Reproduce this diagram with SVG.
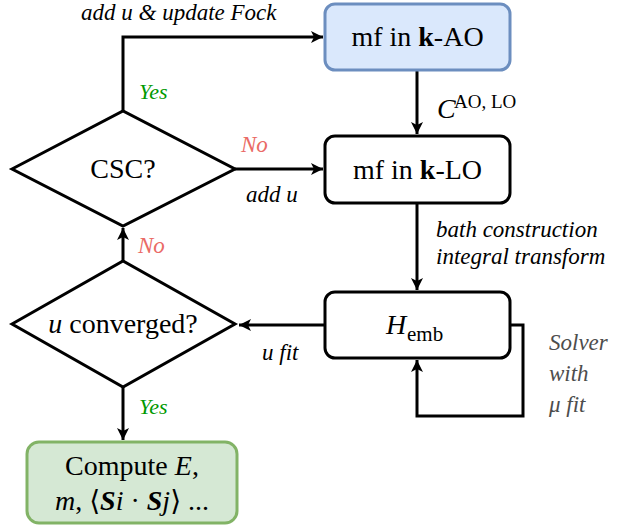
<svg xmlns="http://www.w3.org/2000/svg" width="621" height="529" viewBox="0 0 621 529">
<style>
  .node { stroke: #000; stroke-width: 3; fill: #fff; }
  .blue { fill: #dae8fc; stroke: #6c8ebf; stroke-width: 3; }
  .green { fill: #d5e8d4; stroke: #82b366; stroke-width: 3; }
  .edge { fill: none; stroke: #000; stroke-width: 3; }
  text { fill: #000; }
  .main { font-size: 28px; text-anchor: middle; }
  .lbl { font-size: 23px; font-style: italic; }
  .yes { font-size: 22px; font-style: italic; fill: #009900; }
  .no { font-size: 23px; font-style: italic; fill: #ea6b66; }
  .gray { font-size: 23px; font-style: italic; fill: #4d4d4d; }
</style>
<defs>
  <marker id="arr" markerUnits="userSpaceOnUse" markerWidth="14" markerHeight="14" refX="12" refY="6" orient="auto">
    <path d="M0,0 L12,6 L0,12 L3,6 z" fill="#000"/>
  </marker>
</defs>

<g font-family="'Liberation Serif', 'DejaVu Serif', 'Noto Serif', serif">
<g id="connectors">
  <path class="edge" d="M123,111 V37 H323" marker-end="url(#arr)"/>
  <path class="edge" d="M417,70 V134" marker-end="url(#arr)"/>
  <path class="edge" d="M235,169 H323" marker-end="url(#arr)"/>
  <path class="edge" d="M417,203 V290" marker-end="url(#arr)"/>
  <path class="edge" d="M325,325 H239" marker-end="url(#arr)"/>
  <path class="edge" d="M510,325 H523 V416 H417 V360" marker-end="url(#arr)"/>
  <path class="edge" d="M123,261 V228" marker-end="url(#arr)"/>
  <path class="edge" d="M123,387 V440" marker-end="url(#arr)"/>
  <text class="lbl" x="81" y="20">add u &amp; update Fock</text>
  <text x="437" y="118" font-size="28" font-style="italic">C</text>
  <text x="454" y="108" font-size="19">AO, LO</text>
  <text class="lbl" x="436" y="237">bath construction</text>
  <text class="lbl" x="436" y="264">integral transform</text>
  <text class="lbl" x="246" y="202">add u</text>
  <text class="lbl" x="262" y="360">u fit</text>
  <text class="gray" x="549" y="350">Solver</text>
  <text class="gray" x="549" y="381">with</text>
  <text class="gray" x="549" y="412">μ fit</text>
  <text class="yes" x="139" y="99">Yes</text>
  <text class="no" x="241" y="152">No</text>
  <text class="no" x="138" y="253">No</text>
  <text class="yes" x="139" y="414">Yes</text>
</g>

<g id="mf-kAO">
  <rect class="blue" x="325" y="4" width="185" height="66" rx="10"/>
  <text class="main" x="417.5" y="46">mf in <tspan font-weight="bold">k</tspan>-AO</text>
</g>

<g id="mf-kLO">
  <rect class="node" x="325" y="136" width="185" height="67" rx="10"/>
  <text class="main" x="417.5" y="179">mf in <tspan font-weight="bold">k</tspan>-LO</text>
</g>

<g id="Hemb">
  <rect class="node" x="325" y="292" width="185" height="66" rx="10"/>
  <text x="386" y="334" font-size="28" font-style="italic">H</text>
  <text x="407" y="341" font-size="21">emb</text>
</g>

<g id="csc">
  <polygon class="node" points="12,169 123,111 235,169 123,226"/>
  <text class="main" x="123" y="178">CSC?</text>
</g>

<g id="converged">
  <polygon class="node" points="12,324 123,261 235,324 123,387"/>
  <text class="main" x="123" y="333"><tspan font-style="italic">u</tspan> converged?</text>
</g>

<g id="compute">
  <rect class="green" x="27" y="442" width="210" height="81" rx="12"/>
  <text class="main" x="132" y="475">Compute <tspan font-style="italic">E</tspan>,</text>
  <text class="main" x="132" y="510"><tspan font-style="italic">m</tspan>, ⟨<tspan font-weight="bold" font-style="italic">S</tspan><tspan font-style="italic">i</tspan> · <tspan font-weight="bold" font-style="italic">S</tspan><tspan font-style="italic">j</tspan>⟩ ...</text>
</g>
</g>
</svg>
